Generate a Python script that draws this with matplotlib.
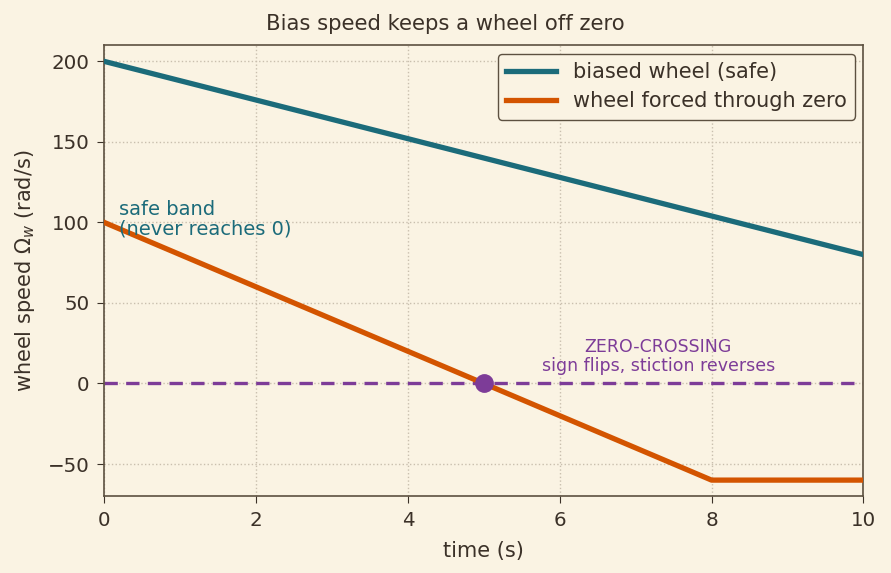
import matplotlib
matplotlib.use("Agg")
import matplotlib.pyplot as plt
import numpy as np

# data
t_biased = [0, 10]
w_biased = [200, 80]
t_forced = [0, 5, 8, 10]
w_forced = [100, 0, -60, -60]
t_cross = 5
w_cross = 0

bg = "#faf3e3"
ink = "#3b3128"
teal = "#1b6b7a"
orange = "#d35400"
purple = "#7d3c98"

plt.rcParams["font.family"] = "DejaVu Sans"

fig, ax = plt.subplots(figsize=(8.91, 5.73), dpi=100)
fig.patch.set_facecolor(bg)
ax.set_facecolor(bg)

ax.axhline(0, color=purple, lw=2.4, ls=(0, (4, 2.5)), zorder=2)
ax.plot(t_biased, w_biased, color=teal, lw=3.8, label="biased wheel (safe)", zorder=3)
ax.plot(t_forced, w_forced, color=orange, lw=3.8, label="wheel forced through zero", zorder=3)
ax.plot([t_cross], [w_cross], "o", color=purple, ms=12.5, zorder=4)

ax.text(0.2, 102, "safe band\n(never reaches 0)", color=teal, fontsize=14,
        va="center", ha="left", linespacing=1.05)
ax.text(7.3, 5.5, "ZERO-CROSSING\nsign flips, stiction reverses", color=purple,
        fontsize=12.5, ha="center", va="bottom", linespacing=1.05)

ax.set_xlim(0, 10)
ax.set_ylim(-70, 210)
ax.set_xticks([0, 2, 4, 6, 8, 10])
ax.set_yticks([-50, 0, 50, 100, 150, 200])
ax.grid(True, ls=":", color="#c9bfae", lw=1)
ax.set_axisbelow(True)

fig.suptitle("Bias speed keeps a wheel off zero", fontsize=15.2, color=ink, x=0.5, y=0.975)
ax.set_xlabel("time (s)", fontsize=15, color=ink, labelpad=8)
ax.set_ylabel(r"wheel speed $\Omega_w$ (rad/s)", fontsize=15, color=ink, labelpad=8)
ax.tick_params(colors=ink, labelsize=14.3, length=5, pad=5.5)
for s in ax.spines.values():
    s.set_color("#5c5040")
    s.set_linewidth(1.2)

leg = ax.legend(loc="upper right", fontsize=15, facecolor=bg, edgecolor="#5c5040",
                framealpha=1, borderaxespad=0.4, handlelength=2.4, labelspacing=0.45)
for txt in leg.get_texts():
    txt.set_color(ink)

fig.subplots_adjust(left=0.117, right=0.969, top=0.921, bottom=0.134)
fig.savefig("out.png", dpi=100, facecolor=bg)
